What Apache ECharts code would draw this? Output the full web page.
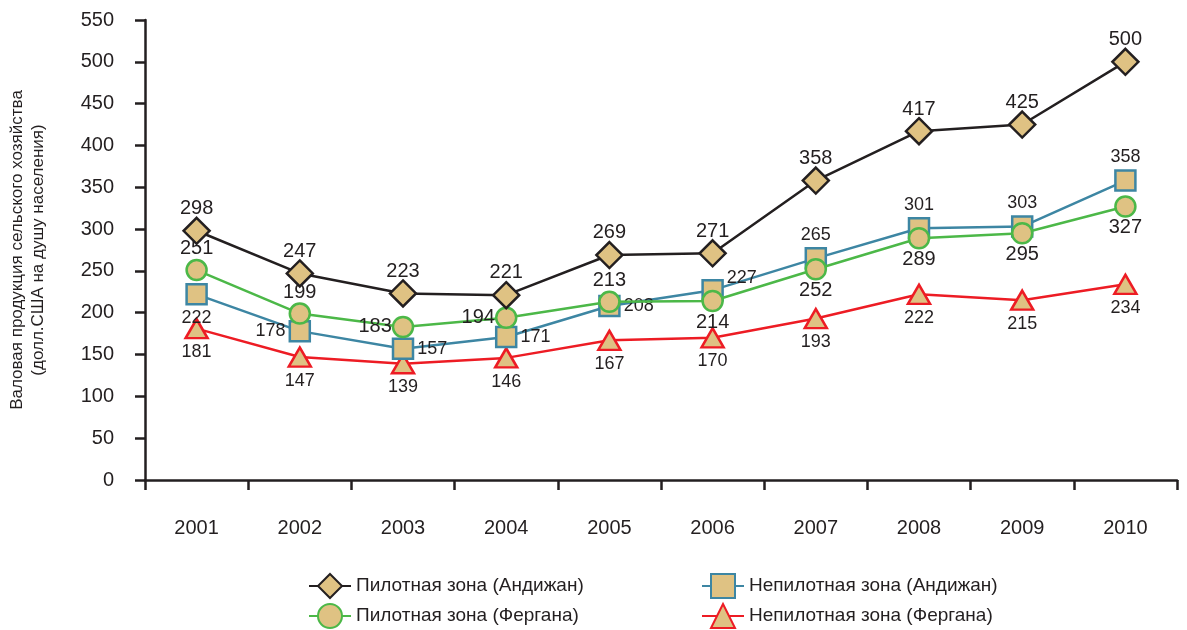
<!DOCTYPE html>
<html>
<head>
<meta charset="utf-8">
<script src="https://cdn.jsdelivr.net/npm/echarts@6/dist/echarts.min.js"></script>
<style>
  html, body { margin: 0; padding: 0; background: #fff; }
  #main { width: 1187px; height: 630px; }
</style>
</head>
<body>
<div id="main"></div>
<script>
    var years = ['2001', '2002', '2003', '2004', '2005', '2006', '2007', '2008', '2009', '2010'];
    var andijanPilot = [298, 247, 223, 221, 269, 271, 358, 417, 425, 500];
    var andijanNonPilot = [222, 178, 157, 171, 208, 227, 265, 301, 303, 358];
    var ferganaPilot = [251, 199, 183, 194, 213, 214, 252, 289, 295, 327];
    var ferganaNonPilot = [181, 147, 139, 146, 167, 170, 193, 222, 215, 234];

    var names = ['Пилотная зона (Андижан)', 'Непилотная зона (Андижан)',
        'Пилотная зона (Фергана)', 'Непилотная зона (Фергана)'];

    /*where each data label sits*/
    var sqPos = ['bottom', 'left', 'right', 'right', 'right', 'right', 'top', 'top', 'top', 'top'];
    var circPos = ['top', 'top', 'left', 'left', 'top', 'bottom', 'bottom', 'bottom', 'bottom', 'bottom'];

    var ink = '#231f20';
    var tan = '#dfc283';

    function withPos(values, pos, extra) {
        return values.map(function (v, i) {
            var lab = { position: pos[i] };
            if (extra && extra[i]) {
                for (var k in extra[i]) lab[k] = extra[i][k];
            }
            return { value: v, label: lab };
        });
    }

    var myChart = echarts.init(document.getElementById('main'));

    function legendAt(name, left, top) {
        return {
            data: [name],
            left: left,
            top: top,
            itemWidth: 42,
            itemHeight: 30,
            itemGap: 6,
            textStyle: { color: ink, fontSize: 19 },
            selectedMode: false
        };
    }

    var option = {
        animation: false,
        textStyle: { fontFamily: '"Liberation Sans", Arial, sans-serif' },
        grid: { left: 145, right: 10, top: 20, bottom: 150, containLabel: false, outerBoundsMode: 'none' },
        legend: [
            legendAt(names[0], 303, 568),
            legendAt(names[1], 696, 568),
            legendAt(names[2], 303, 598),
            legendAt(names[3], 696, 598)
        ],
        xAxis: {
            type: 'category',
            data: years,
            boundaryGap: true,
            axisLine: { lineStyle: { color: ink, width: 2.5 } },
            axisTick: { show: true, length: 10, lineStyle: { color: ink, width: 2.5 } },
            axisLabel: { color: ink, fontSize: 20, margin: 38 }
        },
        yAxis: {
            type: 'value',
            min: 0,
            max: 550,
            interval: 50,
            name: 'Валовая продукция сельского хозяйства\n(долл.США на душу населения)',
            nameLocation: 'middle',
            nameGap: 96,
            nameRotate: 90,
            nameTextStyle: { color: ink, fontSize: 17, lineHeight: 21 },
            axisLine: { show: true, lineStyle: { color: ink, width: 2.5 } },
            axisTick: { show: true, length: 10, lineStyle: { color: ink, width: 2.5 } },
            splitLine: { show: false },
            axisLabel: { color: ink, fontSize: 20, margin: 31 }
        },
        series: [
            {
                name: names[0],
                type: 'line',
                data: andijanPilot,
                symbol: 'diamond',
                symbolSize: 26,
                lineStyle: { color: ink, width: 2.5 },
                itemStyle: { color: tan, borderColor: ink, borderWidth: 2.5 },
                label: { show: true, position: 'top', distance: -2, color: ink, fontSize: 20 },
                z: 5
            },
            {
                name: names[1],
                type: 'line',
                data: withPos(andijanNonPilot, sqPos, { 5: { offset: [0, -12] } }),
                symbol: 'rect',
                symbolSize: 20,
                lineStyle: { color: '#3d86a3', width: 2.5 },
                itemStyle: { color: tan, borderColor: '#3d86a3', borderWidth: 2.5 },
                label: { show: true, distance: 3, color: ink, fontSize: 18 },
                z: 3
            },
            {
                name: names[2],
                type: 'line',
                data: withPos(ferganaPilot, circPos),
                symbol: 'circle',
                symbolSize: 20,
                lineStyle: { color: '#4cb848', width: 2.5 },
                itemStyle: { color: tan, borderColor: '#4cb848', borderWidth: 2.5 },
                label: { show: true, distance: 0, color: ink, fontSize: 20 },
                z: 4
            },
            {
                name: names[3],
                type: 'line',
                data: ferganaNonPilot,
                symbol: 'triangle',
                symbolSize: [22, 19],
                lineStyle: { color: '#ed1c24', width: 2.5 },
                itemStyle: { color: tan, borderColor: '#ed1c24', borderWidth: 2.5 },
                label: { show: true, position: 'bottom', distance: 4, color: ink, fontSize: 18 },
                z: 2
            }
        ]
    };
    myChart.setOption(option);
</script>
</body>
</html>
